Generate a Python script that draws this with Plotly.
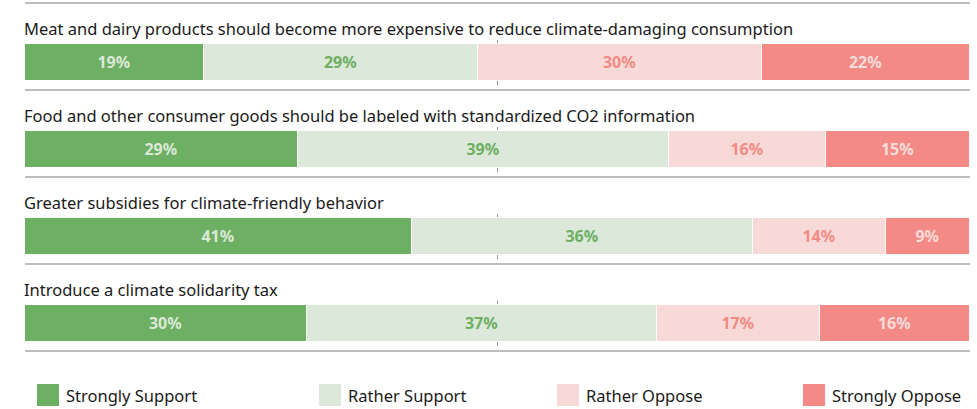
import plotly.graph_objects as go

# ---- data ----
statements = [
    "Meat and dairy products should become more expensive to reduce climate-damaging consumption",
    "Food and other consumer goods should be labeled with standardized CO2 information",
    "Greater subsidies for climate-friendly behavior",
    "Introduce a climate solidarity tax",
]
categories = ["Strongly Support", "Rather Support", "Rather Oppose", "Strongly Oppose"]
# bar shares
strongly_support = [18.9, 28.9, 41.0, 29.8]
rather_support = [29.0, 39.2, 36.0, 37.1]
rather_oppose = [30.1, 16.7, 14.1, 17.2]
strongly_oppose = [22.0, 15.2, 8.9, 15.9]
# printed labels
ss_labels = ["19%", "29%", "41%", "30%"]
rs_labels = ["29%", "39%", "36%", "37%"]
ro_labels = ["30%", "16%", "14%", "17%"]
so_labels = ["22%", "15%", "9%", "16%"]

series = [strongly_support, rather_support, rather_oppose, strongly_oppose]
labels = [ss_labels, rs_labels, ro_labels, so_labels]
colors = ["#6daf63", "#dce8d9", "#f7dad8", "#f38a86"]
text_colors = ["#dbe8d6", "#6daf63", "#f38a86", "#f9dcd9"]

W, H = 977, 409
L, R = 25, 7
PLOT_W = W - L - R
ROW0, STEP, BAR_H = 62.5, 87.0, 37.0
FONT = "Noto Sans"

centers = [ROW0 + STEP * i for i in range(len(statements))]


def px_x(px):
    return (px - L) / PLOT_W * 100


fig = go.Figure()
for vals, labs, col, tcol, name in zip(series, labels, colors, text_colors, categories):
    fig.add_trace(go.Bar(
        y=centers, x=vals, orientation="h", name=name,
        marker=dict(color=col, line=dict(color="white", width=1.5)),
        width=BAR_H,
        text=labs, textposition="inside", insidetextanchor="middle",
        textfont=dict(family=FONT, size=16, color=tcol, weight="bold"),
        constraintext="none", hoverinfo="skip", showlegend=False,
    ))

shapes = []
annotations = []
for i, (c, s) in enumerate(zip(centers, statements)):
    top = c - BAR_H / 2
    bot = c + BAR_H / 2
    # separator above
    shapes.append(dict(type="line", xref="x", yref="y", x0=px_x(6), x1=px_x(977),
                       y0=c - 59.5, y1=c - 59.5, line=dict(color="#a9a9a9", width=1.5)))
    # 50% ticks
    shapes.append(dict(type="line", xref="x", yref="y", x0=50, x1=50, y0=top - 4, y1=top,
                       line=dict(color="#999999", width=1), layer="below"))
    shapes.append(dict(type="line", xref="x", yref="y", x0=50, x1=50, y0=bot, y1=bot + 4,
                       line=dict(color="#999999", width=1), layer="below"))
    annotations.append(dict(x=0, xshift=-3, y=c - 34.5, xref="x", yref="y", text=s,
                            showarrow=False, xanchor="left", yanchor="middle",
                            font=dict(family=FONT, size=16.5, color="#1a1a1a")))
shapes.append(dict(type="line", xref="x", yref="y", x0=px_x(6), x1=px_x(977),
                   y0=centers[-1] + 27.5, y1=centers[-1] + 27.5,
                   line=dict(color="#a9a9a9", width=1.5)))

# legend
leg_sq = [37, 319, 557, 803]
for xs, col, name in zip(leg_sq, colors, categories):
    shapes.append(dict(type="rect", xref="x", yref="y", x0=px_x(xs), x1=px_x(xs + 22),
                       y0=384, y1=406, fillcolor=col, line=dict(width=0)))
    annotations.append(dict(x=px_x(xs + 27), y=395, xref="x", yref="y", text=name,
                            showarrow=False, xanchor="left", yanchor="middle",
                            font=dict(family=FONT, size=16.5, color="#1a1a1a")))

fig.update_layout(
    width=W, height=H,
    margin=dict(l=L, r=R, t=0, b=0),
    barmode="stack", bargap=0,
    paper_bgcolor="white", plot_bgcolor="white",
    xaxis=dict(range=[0, 100], visible=False, fixedrange=True),
    yaxis=dict(range=[H, 0], visible=False, fixedrange=True),
    shapes=shapes, annotations=annotations,
    font=dict(family=FONT),
)

fig.write_html("out.html", config={"displayModeBar": False},
               post_script="document.body.style.margin='0';document.body.style.overflow='hidden';")
